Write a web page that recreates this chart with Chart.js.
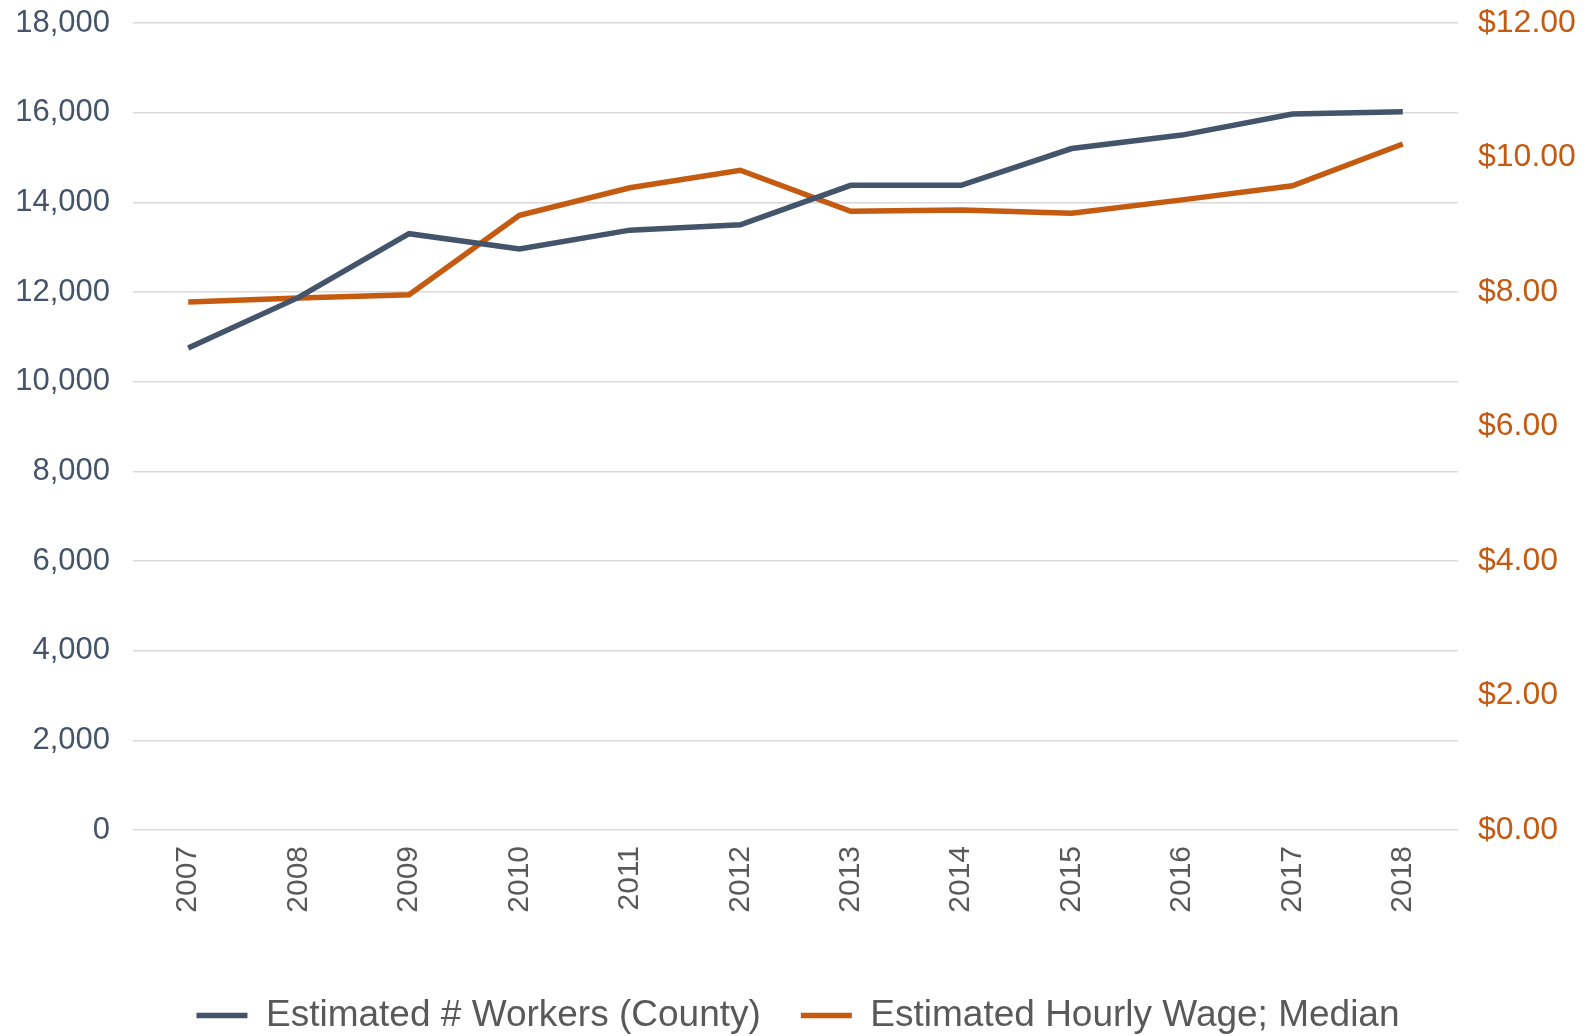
<!DOCTYPE html>
<html>
<head>
<meta charset="utf-8">
<script src="https://cdn.jsdelivr.net/npm/chart.js@4"></script>
<style>
  html, body { margin: 0; padding: 0; background: #fff; }
  #wrap { width: 1596px; height: 1036px; }
</style>
</head>
<body>
<div id="wrap"><canvas id="myChart" width="1596" height="1036"></canvas></div>
<script>
const years = ['2007', '2008', '2009', '2010', '2011', '2012', '2013', '2014', '2015', '2016', '2017', '2018'];
const workers = [10750, 11880, 13300, 12960, 13380, 13500, 14380, 14380, 15200, 15500, 15970, 16020];
const wage = [7.85, 7.91, 7.96, 9.14, 9.55, 9.81, 9.20, 9.22, 9.17, 9.37, 9.58, 10.20];
const workersTicks = [0, 2000, 4000, 6000, 8000, 10000, 12000, 14000, 16000, 18000];
const wageTicks = [0, 2, 4, 6, 8, 10, 12];

const FONT = "'Liberation Sans', Arial, sans-serif";
const SLATE = '#44546A';
const ORANGE = '#C55A11';

// fixed axis widths, no extra top/bottom padding from the tick labels
function fixWidth(w) {
  return function(scale) {
    scale.width = w;
    scale.paddingTop = 0;
    scale.paddingBottom = 0;
  };
}

function draw_chart() {
  new Chart('myChart', {
    type: 'line',
    data: {
      labels: years,
      datasets: [{
        label: 'Estimated # Workers (County)',
        data: workers,
        borderColor: SLATE,
        backgroundColor: SLATE,
        borderWidth: 5.5,
        pointRadius: 0,
        tension: 0,
        yAxisID: 'y'
      }, {
        label: 'Estimated Hourly Wage; Median',
        data: wage,
        borderColor: ORANGE,
        backgroundColor: ORANGE,
        borderWidth: 5.5,
        pointRadius: 0,
        tension: 0,
        yAxisID: 'y1'
      }]
    },
    options: {
      responsive: false,
      animation: false,
      layout: { padding: { top: 23, left: 0, right: 0, bottom: -8 } },
      plugins: {
        tooltip: { enabled: false },
        legend: {
          position: 'bottom',
          labels: {
            usePointStyle: true,
            pointStyle: 'line',
            pointStyleWidth: 51,
            padding: 40,
            color: '#595959',
            font: { family: FONT, size: 37 }
          }
        }
      },
      scales: {
        x: {
          offset: true,
          grid: { display: false },
          border: { display: false },
          ticks: {
            minRotation: 90,
            maxRotation: 90,
            padding: 8,
            color: '#595959',
            font: { family: FONT, size: 30 }
          },
          afterFit: function(scale) { scale.height = 127; }
        },
        y: {
          position: 'left',
          min: 0,
          max: 18000,
          afterBuildTicks: function(scale) { scale.ticks = workersTicks.map(v => ({ value: v })); },
          grid: { color: '#D9D9D9', lineWidth: 1.5, drawTicks: false },
          border: { display: false },
          ticks: {
            padding: 23,
            color: SLATE,
            font: { family: FONT, size: 31 },
            callback: v => v.toLocaleString('en-US')
          },
          afterFit: fixWidth(133)
        },
        y1: {
          position: 'right',
          min: 0,
          max: 12,
          afterBuildTicks: function(scale) { scale.ticks = wageTicks.map(v => ({ value: v })); },
          grid: { display: false, drawTicks: false },
          border: { display: false },
          ticks: {
            padding: 20,
            color: ORANGE,
            font: { family: FONT, size: 32 },
            callback: v => '$' + Number(v).toFixed(2)
          },
          afterFit: fixWidth(138)
        }
      }
    }
  });
}

draw_chart();
</script>
</body>
</html>
